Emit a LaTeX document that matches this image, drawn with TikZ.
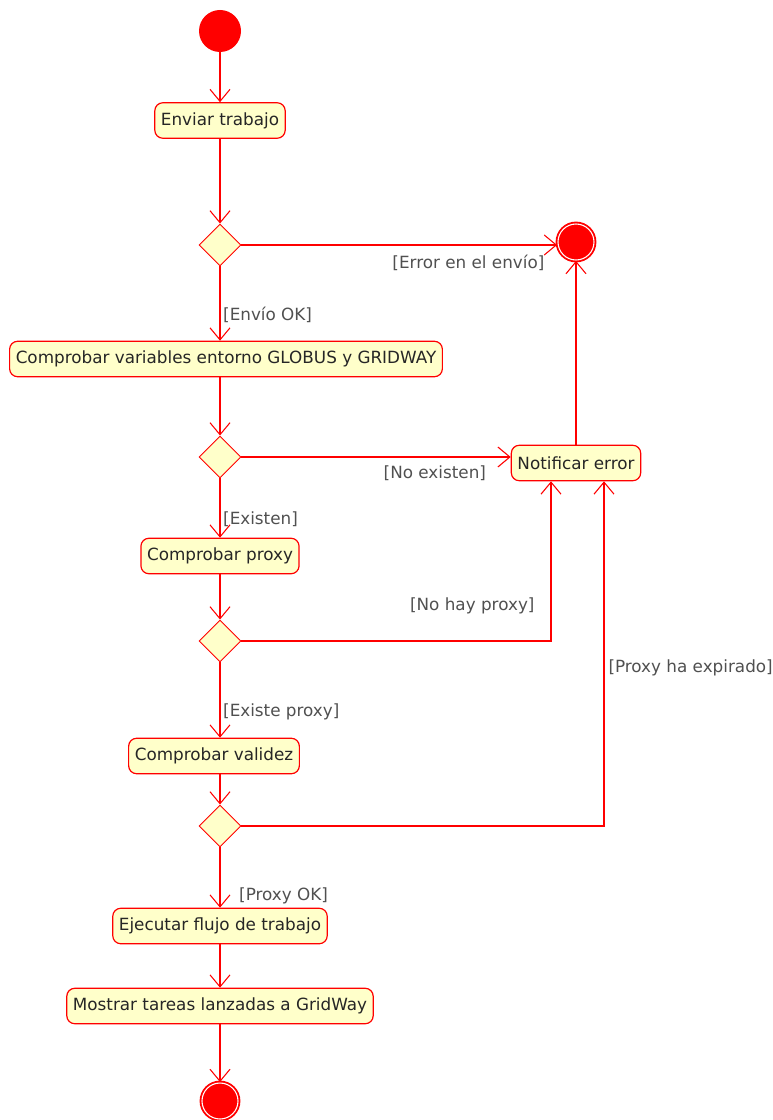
\documentclass[tikz,border=0pt]{standalone}
\usepackage{fontspec}
\setmainfont{DejaVu Sans}
\usetikzlibrary{arrows.meta,shapes.geometric}

\definecolor{umlred}{RGB}{255,0,0}
\definecolor{umlfill}{RGB}{255,255,202}
\definecolor{guardgray}{RGB}{80,80,80}

\begin{document}
\begin{tikzpicture}[
  x=0.75pt, y=-0.75pt,
  font=\fontsize{12.6}{14}\selectfont,
  box/.style={draw=umlred, line width=0.9pt, fill=umlfill, rounded corners=6pt, text=black!85, inner xsep=4.6pt, minimum height=26.6pt},
  choice/.style={draw=umlred, line width=0.7pt, fill=umlfill, diamond, aspect=1, inner sep=0pt, minimum size=31.5pt},
  startdot/.style={circle, fill=umlred, inner sep=0pt, minimum size=31.5pt},
  enddot/.style={circle, draw=umlred, fill=umlred, line width=1.4pt, double=white, double distance=0.8pt, inner sep=0pt, minimum size=27pt},
  arr/.style={draw=umlred, line width=0.8pt, -{Straight Barb[length=9pt, width=15pt, line width=0.8pt]}},
  guard/.style={text=guardgray, inner sep=2pt}
]
  \useasboundingbox (0,0) rectangle (773,1120);

  % main column
  \node[startdot] (start) at (220,31) {};
  \node[box] (enviar) at (220,120.5) {Enviar trabajo};
  \node[choice] (d1) at (220,245) {};
  \node[box] (vars) at (226,359) {Comprobar variables entorno GLOBUS y GRIDWAY};
  \node[choice] (d2) at (220,457) {};
  \node[box] (proxy) at (220,556) {Comprobar proxy};
  \node[choice] (d3) at (220,641) {};
  \node[box] (valid) at (214,756) {Comprobar validez};
  \node[choice] (d4) at (220,826) {};
  \node[box] (ejec) at (220,926) {Ejecutar flujo de trabajo};
  \node[box] (mostrar) at (220,1006) {Mostrar tareas lanzadas a GridWay};
  \node[enddot] (fin2) at (220,1101) {};

  % error branch
  \node[enddot] (fin1) at (576,242) {};
  \node[box] (notif) at (576,463) {Notificar error};

  \draw[arr] (start) -- (enviar);
  \draw[arr] (enviar) -- (d1);
  \draw[arr] (d1) -- (d1 -| fin1.west) node[guard, pos=0.97, anchor=north east, yshift=-5pt] {[Error en el envío]};
  \draw[arr] (d1) -- (vars.north -| d1) node[guard, pos=0.65, right] {[Envío OK]};
  \draw[arr] (vars.south -| d2) -- (d2);
  \draw[arr] (d2) -- (d2 -| notif.west) node[guard, pos=0.92, anchor=north east, yshift=-4.5pt] {[No existen]};
  \draw[arr] (d2) -- (proxy) node[guard, pos=0.68, right] {[Existen]};
  \draw[arr] (proxy) -- (d3);
  \draw[arr] (d3) -| ([xshift=-18.75pt]notif.south) node[guard, pos=0.61, left=10pt] {[No hay proxy]};
  \draw[arr] (d3) -- (valid.north -| d3) node[guard, pos=0.66, right] {[Existe proxy]};
  \draw[arr] (valid.south -| d4) -- (d4);
  \draw[arr] (d4) -| ([xshift=21pt]notif.south) node[guard, pos=0.73, right=1pt] {[Proxy ha expirado]};
  \draw[arr] (d4) -- (ejec) node[guard, pos=0.8, right=12pt] {[Proxy OK]};
  \draw[arr] (ejec) -- (mostrar);
  \draw[arr] (mostrar) -- (fin2);
  \draw[arr] (notif) -- (fin1);
\end{tikzpicture}
\end{document}
